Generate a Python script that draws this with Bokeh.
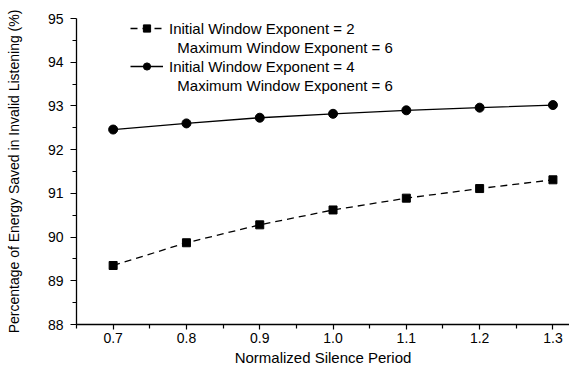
from bokeh.plotting import figure
from bokeh.models import Range1d, FixedTicker, Legend, LegendItem
from bokeh.embed import file_html
from bokeh.resources import INLINE

silence = [0.7, 0.8, 0.9, 1.0, 1.1, 1.2, 1.3]
exp2 = [89.35, 89.87, 90.28, 90.62, 90.89, 91.11, 91.31]
exp4 = [92.46, 92.60, 92.73, 92.82, 92.90, 92.96, 93.02]
x_ticks = [0.7, 0.8, 0.9, 1.0, 1.1, 1.2, 1.3]
x_minor = [0.65, 0.75, 0.85, 0.95, 1.05, 1.15, 1.25, 1.35]
y_ticks = [88, 89, 90, 91, 92, 93, 94, 95]
y_minor = [88.5, 89.5, 90.5, 91.5, 92.5, 93.5, 94.5]
labels = ["Initial Window Exponent = 2", "\u00a0\u00a0Maximum Window Exponent = 6",
          "Initial Window Exponent = 4", "\u00a0\u00a0Maximum Window Exponent = 6"]

FONT = "Liberation Sans"

p = figure(width=569, height=370, output_backend="svg", toolbar_location=None,
           x_range=Range1d(0.65, 1.3226), y_range=Range1d(88, 95),
           min_border_left=76, min_border_right=0, min_border_top=18, min_border_bottom=46)
p.outline_line_color = None
p.xgrid.visible = False
p.ygrid.visible = False

l1 = p.line(silence, exp2, line_color="black", line_width=1.3, line_dash="7 5")
s1 = p.scatter(silence, exp2, marker="square", size=8, fill_color="black", line_color="black")
l2 = p.line(silence, exp4, line_color="black", line_width=1.3)
s2 = p.scatter(silence, exp4, marker="circle", size=9, fill_color="black", line_color="black")

for ax in (p.xaxis[0], p.yaxis[0]):
    ax.axis_line_color = "black"
    ax.axis_line_width = 1.3
    ax.major_tick_line_width = 1.2
    ax.minor_tick_line_width = 1.2
    ax.major_tick_in = 0
    ax.minor_tick_in = 0
    ax.major_label_text_font = FONT
    ax.major_label_text_font_size = "14px"
    ax.major_label_text_color = "black"
    ax.axis_label_text_font = FONT
    ax.axis_label_text_font_style = "normal"
    ax.axis_label_text_color = "black"

p.xaxis.ticker = FixedTicker(ticks=x_ticks, minor_ticks=x_minor)
p.xaxis.major_label_overrides = {v: f"{v:.1f}" for v in x_ticks}
p.xaxis.major_tick_out = 5
p.xaxis.minor_tick_out = 4
p.xaxis.major_label_standoff = 3
p.xaxis.axis_label = "Normalized Silence Period"
p.xaxis.axis_label_text_font_size = "15px"
p.xaxis.axis_label_standoff = 3

p.yaxis.ticker = FixedTicker(ticks=y_ticks, minor_ticks=y_minor)
p.yaxis.major_tick_out = 6
p.yaxis.minor_tick_out = 4
p.yaxis.major_label_standoff = 7
p.yaxis.axis_label = "Percentage of Energy Saved in Invalid Listening (%)"
p.yaxis.axis_label_text_font_size = "14px"
p.yaxis.axis_label_standoff = 23

items = [
    LegendItem(label=labels[0], renderers=[l1, s1]),
    LegendItem(label=labels[1], renderers=[]),
    LegendItem(label=labels[2], renderers=[l2, s2]),
    LegendItem(label=labels[3], renderers=[]),
]
legend = Legend(items=items, location=(54, 230), padding=0, spacing=1, margin=0,
                glyph_width=33, glyph_height=18, label_height=18, label_standoff=6,
                label_text_font=FONT, label_text_font_size="15px", label_text_color="black",
                border_line_color=None, background_fill_alpha=0)
p.add_layout(legend, "center")

open("out.html", "w").write(file_html(p, INLINE))
